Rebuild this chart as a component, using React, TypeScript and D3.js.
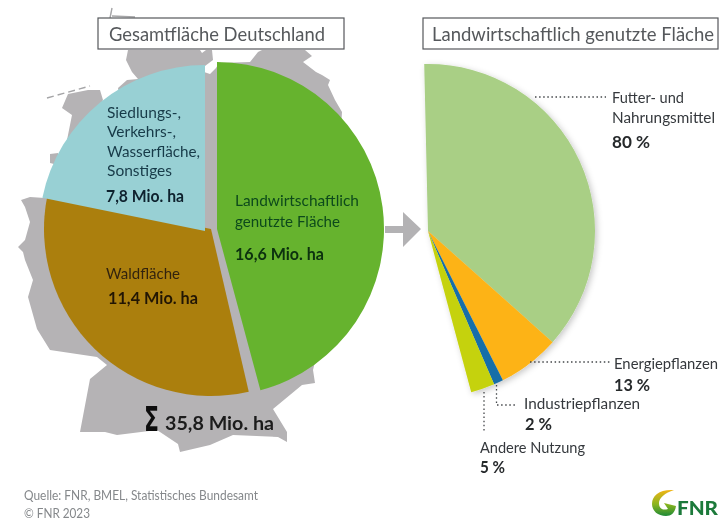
import React from "react";
import * as d3 from "d3";

// Data
const totalCategories = ["Landwirtschaftlich genutzte Fläche", "Waldfläche", "Siedlungs-, Verkehrs-, Wasserfläche, Sonstiges"];
const totalValues = [16.6, 11.4, 7.8];
const totalColors = ["#66b32e", "#ab7f10", "#98d0d4"];
const agriCategories = ["Futter- und Nahrungsmittel", "Energiepflanzen", "Industriepflanzen", "Andere Nutzung"];
const agriValues = [80, 13, 2, 5];
const agriColors = ["#a9cf85", "#fdb316", "#156ea8", "#c5d20a"];

const deg = Math.PI / 180;
const sliceOrigins = [[217, 229], [211, 229], [205, 231]];
const sliceEndTrim = [2 * deg, 0, 0];
const leftPie = d3.pie<number>().sort(null).startAngle(0).endAngle(2 * Math.PI)(totalValues);
const rightPie = d3.pie<number>().sort(null).startAngle(-1.3 * deg).endAngle(165 * deg)(agriValues);
const leftArc = d3.arc<d3.PieArcDatum<number>>().innerRadius(0);
const rightArc = d3.arc<d3.PieArcDatum<number>>().innerRadius(0).outerRadius(167);
const leftRadii = [167, 167, 166];

// Decorative silhouette of Germany behind the left pie
const mapMain = "M128,50 L200,50 L202,53 L206,50 L212,50 L213,60 L205,66 L204,72 L210,74 L216,68 L219,63 L250,62 L258,52 L262,50 L305,50 L312,56 L303,62 L316,72 L322,75 L330,80 L328,85 L335,100 L342,112 L330,300 L313,370 L315,383 L302,385 L273,409 L287,432 L287,442 L278,437 L233,435 L210,445 L180,452 L178,444 L157,430 L117,435 L105,432 L80,432 L90,379 L107,365 L97,357 L50,350 L37,329 L28,297 L33,280 L25,260 L23,252 L18,247 L25,240 L30,222 L25,207 L21,200 L30,197 L45,198 L120,100 L118,88 L127,80 L138,79 L132,72 L126,60 Z";
const mapParts = [
  "M62,108 L68,94 L88,90 L100,90 L103,100 L95,115 L75,135 L67,140 L72,115 Z",
  "M50,154 L58,153 L58,165 L50,163 Z",
];
const mapLines = [
  { d: "M110,18 L112,8", dash: "none" },
  { d: "M112,16 L135,17", dash: "none" },
  { d: "M47,98 L90,86", dash: "7 4" },
];

type Label = { t: string; x: number; y: number; w: number; s: number; b?: boolean; c: string };
const DARK = "#35393d";
const labels: Label[] = [
  { t: "Siedlungs-,", x: 107, y: 118, w: 74, s: 16, c: "#183a48" },
  { t: "Verkehrs-,", x: 107, y: 137, w: 69, s: 16, c: "#183a48" },
  { t: "Wasserfläche,", x: 107, y: 157, w: 93, s: 16, c: "#183a48" },
  { t: "Sonstiges", x: 107, y: 176, w: 65, s: 16, c: "#183a48" },
  { t: "7,8 Mio. ha", x: 106, y: 202, w: 78, s: 17, b: true, c: "#10222e" },
  { t: "Landwirtschaftlich", x: 235, y: 206, w: 124, s: 16, c: "#0d4a1c" },
  { t: "genutzte Fläche", x: 235, y: 227, w: 105, s: 16, c: "#0d4a1c" },
  { t: "16,6 Mio. ha", x: 235, y: 260, w: 89, s: 17, b: true, c: "#0b3010" },
  { t: "Waldfläche", x: 106, y: 279, w: 74, s: 16, c: "#33240c" },
  { t: "11,4 Mio. ha", x: 108, y: 304, w: 90, s: 17, b: true, c: "#241806" },
  { t: "35,8 Mio. ha", x: 165, y: 430, w: 109, s: 19, b: true, c: "#1c1c1c" },
  { t: "Futter- und", x: 612, y: 103, w: 72, s: 15.5, c: DARK },
  { t: "Nahrungsmittel", x: 612, y: 123, w: 103, s: 15.5, c: DARK },
  { t: "80 %", x: 612, y: 148, w: 38, s: 17, b: true, c: "#26292c" },
  { t: "Energiepflanzen", x: 614, y: 369, w: 104, s: 15, c: DARK },
  { t: "13 %", x: 614, y: 391, w: 36, s: 17, b: true, c: "#26292c" },
  { t: "Industriepflanzen", x: 524, y: 409, w: 116, s: 15.5, c: DARK },
  { t: "2 %", x: 525, y: 430, w: 27, s: 17, b: true, c: "#26292c" },
  { t: "Andere Nutzung", x: 480, y: 453, w: 105, s: 15.5, c: DARK },
  { t: "5 %", x: 480, y: 473, w: 25, s: 17, b: true, c: "#26292c" },
  { t: "Quelle: FNR, BMEL, Statistisches Bundesamt", x: 24, y: 500, w: 234, s: 12.5, c: "#85888b" },
  { t: "© FNR 2023", x: 24, y: 518, w: 66, s: 12.5, c: "#85888b" },
];

const leaders = [
  "M535,97 H606",
  "M530,362 H612",
  "M496.5,385 V405 H516",
  "M484,392 V431",
];

export default function App() {
  return (
    <svg width={720} height={524} viewBox="0 0 720 524" style={{ position: "fixed", left: 0, top: 0, background: "#fff" }} fontFamily="Lato, 'Noto Sans', sans-serif">
      <defs>
        <filter id="soft" x="-5%" y="-5%" width="110%" height="110%">
          <feGaussianBlur stdDeviation="0.55" />
        </filter>
        <filter id="shadow" x="-20%" y="-20%" width="140%" height="140%">
          <feDropShadow dx="2" dy="2" stdDeviation="3" floodColor="#000" floodOpacity="0.22" />
        </filter>
        <linearGradient id="logoGrad" x1="0" y1="0" x2="0" y2="1">
          <stop offset="0" stopColor="#f2b416" />
          <stop offset="0.55" stopColor="#8ab51f" />
          <stop offset="1" stopColor="#1f8a37" />
        </linearGradient>
      </defs>
      <g filter="url(#soft)">
        <path d={mapMain} fill="#b5b3b5" />
        {mapParts.map((d) => <path key={d} d={d} fill="#b5b3b5" />)}
        {mapLines.map((l) => (
          <path key={l.d} d={l.d} fill="none" stroke="#a5a5a7" strokeWidth={1.4} strokeDasharray={l.dash} />
        ))}

        <rect x={98} y={18} width={246} height={31} fill="#fff" stroke="#55585b" strokeWidth={1.2} />
        <text x={109} y={41} fontSize={19} fill="#55585b" textLength={216} lengthAdjust="spacingAndGlyphs">Gesamtfläche Deutschland</text>
        <rect x={423} y={18} width={295} height={31} fill="#fff" stroke="#55585b" strokeWidth={1.2} />
        <text x={432} y={41} fontSize={18.5} fill="#55585b" textLength={282} lengthAdjust="spacingAndGlyphs">Landwirtschaftlich genutzte Fläche</text>

        {leftPie.map((p, i) => (
          <path
            key={totalCategories[i]}
            transform={`translate(${sliceOrigins[i][0]},${sliceOrigins[i][1]})`}
            d={leftArc.outerRadius(leftRadii[i])({ ...p, endAngle: p.endAngle - sliceEndTrim[i] }) as string}
            fill={totalColors[i]}
          />
        ))}

        <path d="M385,226 H403 V212 L421,229 L403,247 V233 H385 Z" fill="#b3b2b4" />

        <g transform="translate(428,231)" filter="url(#shadow)">
          {rightPie.map((p, i) => (
            <path key={agriCategories[i]} d={rightArc(p) as string} fill={agriColors[i]} />
          ))}
        </g>

        {leaders.map((d) => (
          <path key={d} d={d} fill="none" stroke="#45484b" strokeWidth={1.3} strokeDasharray="1.5 2.6" />
        ))}

        {labels.map((l) => (
          <text key={l.t} x={l.x} y={l.y} fontSize={l.s} fontWeight={l.b ? 700 : 400} fill={l.c} textLength={l.w} lengthAdjust="spacingAndGlyphs">{l.t}</text>
        ))}
        <text x={144} y={431} fontSize={33} fontWeight={700} fill="#111" fontFamily="'DejaVu Sans', sans-serif" textLength={15} lengthAdjust="spacingAndGlyphs">Σ</text>

        <path d="M674,490 C660,489 652,495 652,504 C652,511 658,516 666,516 C671,516 675,513 676,506 L664,503 L668,509 C661,511 659,507 659,503 C659,498 665,493 674,490 Z" fill="url(#logoGrad)" />
        <text x={677} y={515} fontSize={18} fontWeight={900} fill="#1c7a3a" textLength={41} lengthAdjust="spacingAndGlyphs">FNR</text>
      </g>
    </svg>
  );
}
